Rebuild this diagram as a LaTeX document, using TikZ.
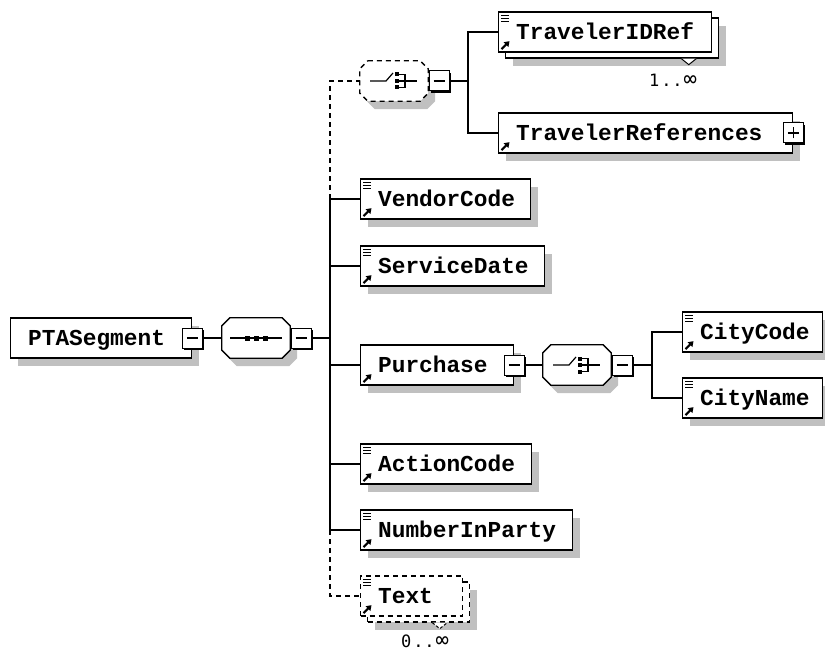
\documentclass[tikz,border=0pt]{standalone}
\usepackage{fontspec}
\newfontfamily\elfont{Liberation Mono}
\newfontfamily\lblfont{DejaVu Sans Mono}
\usetikzlibrary{shadows,arrows.meta,calc}
\definecolor{shade}{RGB}{192,192,192}
\newcommand\ebox[2]{\makebox[#1pt][l]{\hspace*{17.5pt}#2}}
\newcommand\octshape[2]{\path[#2] ([xshift=8pt]#1.north west) -- ([xshift=-8pt]#1.north east) -- ([yshift=-8pt]#1.north east) -- ([yshift=8pt]#1.south east) -- ([xshift=-8pt]#1.south east) -- ([xshift=8pt]#1.south west) -- ([yshift=8pt]#1.south west) -- ([yshift=-8pt]#1.north west) -- cycle;}
\newcommand\seqsym[1]{\begin{scope}[shift={(#1.center)}]
  \draw[line width=1.2pt] (-26,0) -- (26,0);
  \fill (-11.5,-2.5) rectangle ++(5,5); \fill (-2.5,-2.5) rectangle ++(5,5); \fill (6.5,-2.5) rectangle ++(5,5);
\end{scope}}
\newcommand\chsym[1]{\begin{scope}[shift={(#1.center)}]
  \draw[line width=1.2pt] (-24,0) -- (-8,0) -- (-1,-8);
  \fill (1,-8.5) rectangle (5,-4.5); \fill (1,-2) rectangle (5,2); \fill (1,4.5) rectangle (5,8.5);
  \draw[line width=1.2pt] (5,-6.5) -- (11,-6.5) -- (11,6.5) -- (5,6.5);
  \draw[line width=1.2pt] (5,0) -- (23,0);
\end{scope}}
\newcommand\lines[1]{\draw[line width=1.1pt] ([xshift=3pt,yshift=-4pt]#1.north west) -- ++(8,0) ([xshift=3pt,yshift=-7pt]#1.north west) -- ++(8,0) ([xshift=3pt,yshift=-10pt]#1.north west) -- ++(8,0);}
\newcommand\refarrow[1]{\draw[line width=2pt, -{Triangle[length=5pt,width=6.5pt]}] ([xshift=3.5pt,yshift=3.5pt]#1.south west) -- ++(8,-8);}
\tikzset{
  ebase/.style={draw=black, line width=1.3pt, fill=white, inner sep=0pt, minimum height=40pt, anchor=west,
    text height=15pt, text depth=0pt, font={\elfont\bfseries\fontsize{22.8pt}{24pt}\selectfont}},
  elem/.style={ebase, drop shadow={shadow xshift=7pt, shadow yshift=-8pt, fill=shade, opacity=1}},
  repelem/.style={ebase, drop shadow={shadow xshift=14pt, shadow yshift=-14pt, fill=shade, opacity=1},
    general shadow={shadow xshift=7pt, shadow yshift=-6pt, fill=white, draw=black, line width=1.3pt}},
  optrepelem/.style={ebase, dash pattern=on 5pt off 4pt, drop shadow={shadow xshift=14pt, shadow yshift=-14pt, fill=shade, opacity=1},
    general shadow={shadow xshift=7pt, shadow yshift=-6pt, fill=white, draw=black, line width=1.3pt, dash pattern=on 5pt off 4pt}},
  comp/.style={minimum width=68pt, minimum height=40pt, inner sep=0pt},
  pm/.style={draw=black, line width=1pt, fill=white, minimum size=20pt, inner sep=0pt,
    drop shadow={shadow xshift=2pt, shadow yshift=-2pt, fill=black, opacity=1}},
  conn/.style={line width=1.3pt},
  dconn/.style={line width=1.3pt, dash pattern=on 5pt off 4pt},
  lbl/.style={font={\lblfont\fontsize{17pt}{18pt}\selectfont}, inner sep=0pt}
}
\newcommand\minus{\rule[-0.6pt]{11pt}{1.2pt}}
\newcommand\plus{\makebox[0pt]{\rule[-0.6pt]{11pt}{1.2pt}}\makebox[0pt]{\rule[-5.5pt]{1.2pt}{11pt}}}
\newcommand\infsym{{\fontsize{22pt}{22pt}\selectfont ∞}}
\begin{document}
\begin{tikzpicture}[x=1pt,y=-1pt]
\fill[white] (0,0) rectangle (825,655);
\useasboundingbox (0,0) rectangle (825,655);

% compositor placeholders
\node[comp] (seq) at (256,338) {};
\node[comp] (ch1) at (394,81) {};
\node[comp] (ch2) at (577,365) {};
\octshape{seq}{fill=shade, transform canvas={xshift=7pt,yshift=-8pt}}
\octshape{ch1}{fill=shade, transform canvas={xshift=7pt,yshift=-8pt}}
\octshape{ch2}{fill=shade, transform canvas={xshift=7pt,yshift=-8pt}}
\octshape{seq}{draw=black, fill=white, line width=1.3pt}
\octshape{ch1}{draw=black, fill=white, line width=1.3pt, dash pattern=on 5pt off 4pt}
\octshape{ch2}{draw=black, fill=white, line width=1.3pt}
\seqsym{seq}
\chsym{ch1}
\chsym{ch2}
\node[pm] (seqm) at (301,338) {\minus};
\node[pm] (ch1m) at (439,81) {\minus};
\node[pm] (ch2m) at (622,365) {\minus};

% elements
\node[elem] (PTA) at (10,338) {\ebox{181}{PTASegment}};
\node[pm] (PTAm) at (PTA.east) {\minus};
\node[repelem] (TIR) at (498,32) {\ebox{213}{TravelerIDRef}};
\node[elem] (TRF) at (498,133) {\ebox{294}{TravelerReferences}};
\node[pm] (TRFp) at (TRF.east) {\plus};
\node[elem] (VC) at (360,199) {\ebox{170}{VendorCode}};
\node[elem] (SD) at (360,266) {\ebox{184}{ServiceDate}};
\node[elem] (PU) at (360,365) {\ebox{153}{Purchase}};
\node[pm] (PUm) at (PU.east) {\minus};
\node[elem] (CC) at (682,332) {\ebox{140}{CityCode}};
\node[elem] (CN) at (682,398) {\ebox{140}{CityName}};
\node[elem] (AC) at (360,464) {\ebox{171}{ActionCode}};
\node[elem] (NIP) at (360,530) {\ebox{212}{NumberInParty}};
\node[optrepelem] (TX) at (360,596) {\ebox{102}{Text}};

% icons
\foreach \n in {TIR,VC,SD,CC,CN,AC,NIP,TX} {\lines{\n}}
\foreach \n in {TIR,TRF,VC,SD,PU,CC,CN,AC,NIP,TX} {\refarrow{\n}}

% repeat notches
\fill[white] ([xshift=-31pt,yshift=-6pt]TIR.south east) -- ([xshift=-23.5pt,yshift=-12pt]TIR.south east) -- ([xshift=-16pt,yshift=-6pt]TIR.south east) -- cycle;
\draw[line width=1pt] ([xshift=-31pt,yshift=-6pt]TIR.south east) -- ([xshift=-23.5pt,yshift=-12pt]TIR.south east) -- ([xshift=-16pt,yshift=-6pt]TIR.south east);
\fill[white] ([xshift=-31pt,yshift=-6pt]TX.south east) -- ([xshift=-23.5pt,yshift=-12pt]TX.south east) -- ([xshift=-16pt,yshift=-6pt]TX.south east) -- cycle;
\draw[line width=1pt, dash pattern=on 3pt off 2pt] ([xshift=-31pt,yshift=-6pt]TX.south east) -- ([xshift=-23.5pt,yshift=-12pt]TX.south east) -- ([xshift=-16pt,yshift=-6pt]TX.south east);

% labels
\node[lbl] (m1) at (673,80) {1\kern2pt.\kern1pt.\kern1pt\infsym};
\node[lbl] (m2) at (425,641) {0\kern2pt.\kern1pt.\kern1pt\infsym};

% connectors
\coordinate (bj) at (330,338);
\coordinate (bt) at (330,199);
\coordinate (bb) at (330,530);
\coordinate (v1) at (468,81);
\coordinate (v2) at (652,365);
\draw[conn] (PTAm.east) -- (seq.west);
\draw[conn] (seqm.east) -- (bj);
\draw[conn] (bt) -- (bb);
\foreach \n in {VC,SD,PU,AC,NIP} {\draw[conn] (\n.west -| bj) -- (\n.west);}
\draw[dconn] (bt) |- (ch1.west);
\draw[dconn] (bb) |- (TX.west);
\draw[conn] (ch1m.east) -- (v1);
\draw[conn] (v1) |- (TIR.west);
\draw[conn] (v1) |- (TRF.west);
\draw[conn] (PUm.east) -- (ch2.west);
\draw[conn] (ch2m.east) -- (v2);
\draw[conn] (v2) |- (CC.west);
\draw[conn] (v2) |- (CN.west);
\end{tikzpicture}
\end{document}
